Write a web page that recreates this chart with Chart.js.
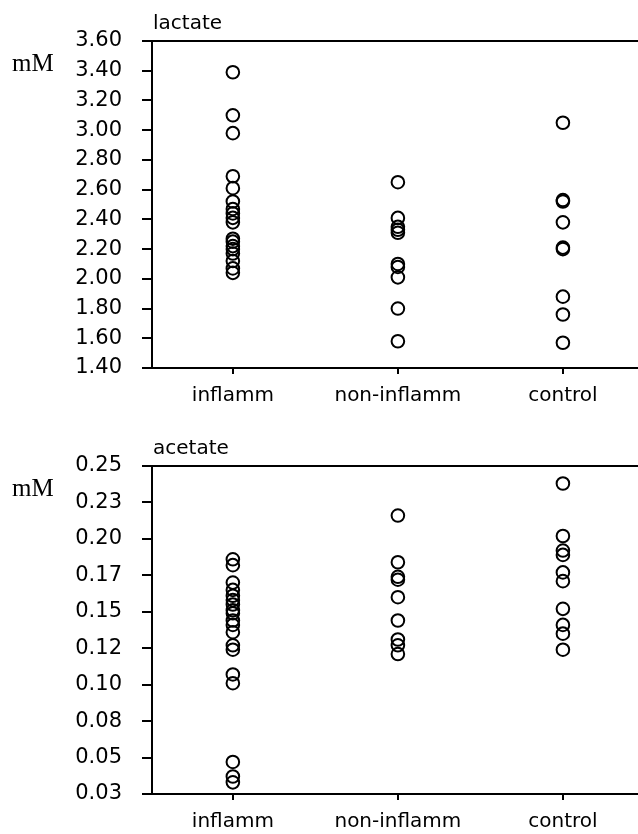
<!DOCTYPE html>
<html>
<head>
<meta charset="utf-8">
<script src="https://cdn.jsdelivr.net/npm/chart.js@4.4.1/dist/chart.umd.min.js"></script>
<style>
  body { margin: 0; background: #fff; overflow: hidden; }
  canvas { position: absolute; left: 0; }
  #lactateChart { top: 0; }
  #acetateChart { top: 425px; }
</style>
</head>
<body>
<canvas id="lactateChart" width="638" height="425"></canvas>
<canvas id="acetateChart" width="638" height="409"></canvas>
<script>
const categories = ['inflamm', 'non-inflamm', 'control'];

// lactate, mM
const lactateInflamm = [3.39, 3.10, 2.98, 2.69, 2.61, 2.52, 2.47, 2.44, 2.41, 2.38, 2.27, 2.25, 2.22, 2.20, 2.17, 2.12, 2.07, 2.04];
const lactateNonInflamm = [2.65, 2.41, 2.35, 2.33, 2.31, 2.10, 2.08, 2.01, 1.80, 1.58];
const lactateControl = [3.05, 2.53, 2.52, 2.38, 2.21, 2.20, 1.88, 1.76, 1.57];

// acetate, mM
const acetateInflamm = [0.186, 0.182, 0.170, 0.165, 0.161, 0.158, 0.155, 0.151, 0.149, 0.144, 0.141, 0.136, 0.127, 0.124, 0.107, 0.101, 0.047, 0.037, 0.033];
const acetateNonInflamm = [0.216, 0.184, 0.174, 0.172, 0.160, 0.144, 0.131, 0.127, 0.121];
const acetateControl = [0.238, 0.202, 0.192, 0.189, 0.177, 0.171, 0.152, 0.141, 0.135, 0.124];

const lactateTicks = [1.4, 1.6, 1.8, 2.0, 2.2, 2.4, 2.6, 2.8, 3.0, 3.2, 3.4, 3.6];
const lactateTickLabels = ['1.40', '1.60', '1.80', '2.00', '2.20', '2.40', '2.60', '2.80', '3.00', '3.20', '3.40', '3.60'];
const acetateTicks = [0.025, 0.05, 0.075, 0.1, 0.125, 0.15, 0.175, 0.2, 0.225, 0.25];
const acetateTickLabels = ['0.03', '0.05', '0.08', '0.10', '0.12', '0.15', '0.17', '0.20', '0.23', '0.25'];

// top border line + panel name + unit
const frame = {
  id: 'frame',
  afterDraw(chart, args, opts) {
    const ctx = chart.ctx;
    const a = chart.chartArea;
    ctx.save();
    ctx.strokeStyle = '#000';
    ctx.lineWidth = 2;
    ctx.beginPath();
    ctx.moveTo(a.left, a.top);
    ctx.lineTo(a.right, a.top);
    ctx.stroke();
    ctx.fillStyle = '#000';
    ctx.textBaseline = 'alphabetic';
    ctx.font = '20px "DejaVu Sans"';
    ctx.fillText(opts.name, a.left + 1, a.top - 12);
    ctx.font = '25px "Liberation Serif"';
    ctx.fillText(opts.unit, 12, a.top + 30);
    ctx.restore();
  }
};

function makeChart(id, groups, tickVals, tickLabels, name, xHeight) {
  var datasets = groups.map((vals, i) => ({
    label: categories[i],
    data: vals.map(v => ({ x: i, y: v })),
    pointStyle: 'circle',
    pointRadius: 6.3,
    borderWidth: 2,
    borderColor: '#000',
    backgroundColor: 'rgba(0,0,0,0)'
  }));

  return new Chart(document.getElementById(id), {
    type: 'scatter',
    data: { datasets: datasets },
    options: {
      responsive: false,
      animation: false,
      layout: { autoPadding: false, padding: { top: 41, left: 0, right: 0, bottom: 0 } },
      plugins: {
        legend: { display: false },
        tooltip: { enabled: false },
        frame: { name: name, unit: 'mM' }
      },
      scales: {
        x: {
          type: 'linear',
          min: -0.49,
          max: 2.455,
          afterBuildTicks: s => { s.ticks = categories.map((c, i) => ({ value: i })); },
          afterFit: s => { s.height = xHeight; },
          grid: { drawOnChartArea: false, color: '#000', lineWidth: 2, tickLength: 6 },
          border: { color: '#000', width: 2 },
          ticks: {
            color: '#000',
            font: { family: 'DejaVu Sans', size: 20 },
            padding: 10,
            maxRotation: 0,
            autoSkip: false,
            callback: v => categories[v]
          }
        },
        y: {
          min: tickVals[0],
          max: tickVals[tickVals.length - 1],
          afterBuildTicks: s => { s.ticks = tickVals.map(v => ({ value: v })); },
          afterFit: s => { s.width = 152; },
          grid: { drawOnChartArea: false, color: '#000', lineWidth: 2, tickLength: 10 },
          border: { color: '#000', width: 2 },
          ticks: {
            color: '#000',
            font: { family: 'DejaVu Sans', size: 21 },
            padding: 20,
            autoSkip: false,
            callback: (v, i) => tickLabels[i]
          }
        }
      }
    },
    plugins: [frame]
  });
}

makeChart('lactateChart', [lactateInflamm, lactateNonInflamm, lactateControl], lactateTicks, lactateTickLabels, 'lactate', 57);
makeChart('acetateChart', [acetateInflamm, acetateNonInflamm, acetateControl], acetateTicks, acetateTickLabels, 'acetate', 40);
</script>
</body>
</html>
